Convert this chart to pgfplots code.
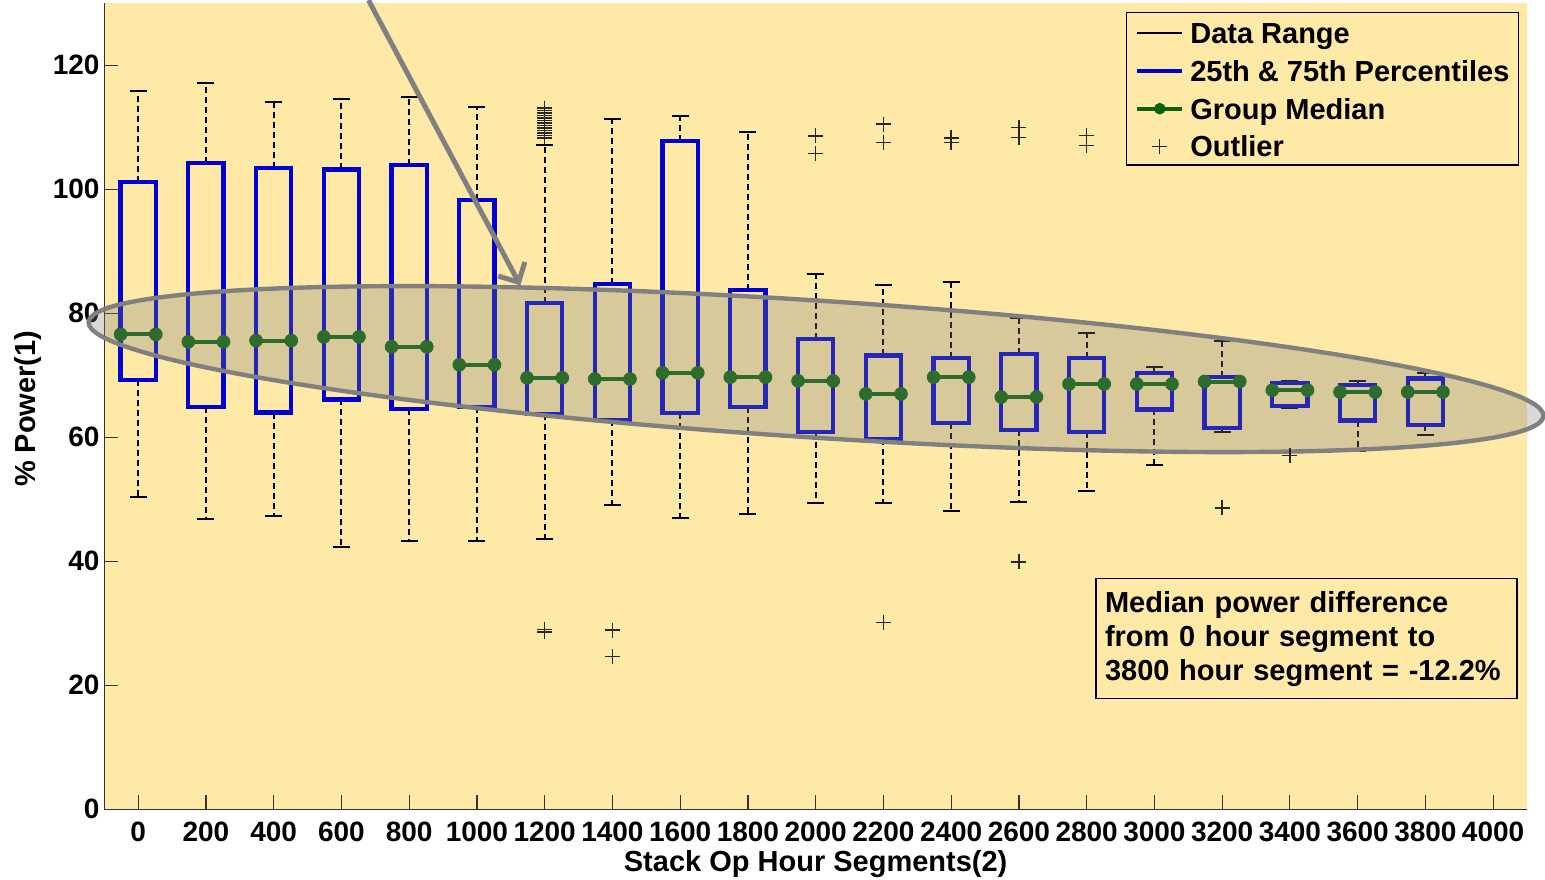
\documentclass[border=0pt]{standalone}
\usepackage{pgfplots}
\pgfplotsset{compat=1.18}
\usepgfplotslibrary{statistics}
\usetikzlibrary{arrows.meta}
\usepackage{fontspec}
\setmainfont{Liberation Sans}
\definecolor{bgyellow}{RGB}{255,233,166}
\definecolor{boxblue}{RGB}{0,0,210}
\definecolor{medgreen}{RGB}{10,100,10}
\definecolor{ellgray}{RGB}{128,128,128}
\newcommand{\lbl}{\bfseries\fontsize{14.5}{17}\selectfont}
\pgfplotsset{
  boxplot/draw/lower whisker/.code={%
    \draw[black, line width=1pt, dash pattern=on 3pt off 2pt]
      (boxplot cs:\pgfplotsboxplotvalue{lower quartile}) -- (boxplot cs:\pgfplotsboxplotvalue{lower whisker});
    \draw[black, line width=1pt]
      (boxplot whisker cs:\pgfplotsboxplotvalue{lower whisker},0) -- (boxplot whisker cs:\pgfplotsboxplotvalue{lower whisker},1);
  },
  boxplot/draw/upper whisker/.code={%
    \draw[black, line width=1pt, dash pattern=on 3pt off 2pt]
      (boxplot cs:\pgfplotsboxplotvalue{upper quartile}) -- (boxplot cs:\pgfplotsboxplotvalue{upper whisker});
    \draw[black, line width=1pt]
      (boxplot whisker cs:\pgfplotsboxplotvalue{upper whisker},0) -- (boxplot whisker cs:\pgfplotsboxplotvalue{upper whisker},1);
  },
  boxplot/draw/box/.code={%
    \draw[boxblue, line width=2.1pt]
      (boxplot box cs:\pgfplotsboxplotvalue{lower quartile},0) rectangle (boxplot box cs:\pgfplotsboxplotvalue{upper quartile},1);
  },
  boxplot/draw/median/.code={%
    \draw[medgreen, line width=2pt]
      (boxplot box cs:\pgfplotsboxplotvalue{median},0) -- (boxplot box cs:\pgfplotsboxplotvalue{median},1);
    \fill[medgreen] (boxplot box cs:\pgfplotsboxplotvalue{median},0) circle[radius=3.2pt];
    \fill[medgreen] (boxplot box cs:\pgfplotsboxplotvalue{median},1) circle[radius=3.2pt];
  },
  bx/.style={forget plot, boxplot/draw direction=y, boxplot prepared={draw direction=y, box extend=104, whisker extend=50}},
}
\pgfplotstableread{
x y
1200 108.3
1200 108.7
1200 109.1
1200 109.5
1200 109.9
1200 110.3
1200 110.7
1200 111.1
1200 111.5
1200 111.9
1200 112.3
1200 112.7
1200 113.1
1200 29.0
1200 28.6
1400 28.9
1400 24.6
2000 108.6
2000 105.8
2200 110.5
2200 107.5
2200 30.1
2400 108.3
2400 107.5
2600 110.0
2600 108.4
2600 39.9
2800 108.7
2800 107.1
3200 48.6
3400 57.1
}\outliers
\begin{document}
\begin{tikzpicture}
\begin{axis}[name=ax, at={(0,0)}, anchor=south west,
  scale only axis, width=711.35pt, height=403pt,
  xmin=-100, xmax=4100, ymin=0, ymax=130,
  clip=false,
  axis x line=bottom, axis y line=left,
  axis line style={-, black!80, line width=0.8pt},
  axis background/.style={fill=bgyellow},
  tick align=inside, major tick length=7pt,
  tick style={black!80, line width=0.6pt},
  xtick={0,200,...,4000},
  xticklabels={0,200,400,600,800,1000,1200,1400,1600,1800,2000,2200,2400,2600,2800,3000,3200,3400,3600,3800,4000},
  ytick={0,20,...,120},
  yticklabels={0,20,40,60,80,100,120},
  ticklabel style={font=\bfseries\fontsize{14}{16}\selectfont},
  xticklabel style={inner sep=0pt, yshift=-6.2pt},
  yticklabel style={inner sep=0pt, xshift=-2.2pt},
  every axis x label/.style={at={(axis description cs:0.5,-0.0684)}, anchor=center, font=\lbl},
  every axis y label/.style={at={(axis description cs:-0.0536,0.497)}, rotate=90, anchor=center, font=\lbl},
  xlabel={Stack Op Hour Segments(2)},
  ylabel={\% Power(1)},
  legend style={at={(axis description cs:0.9944,0.9896)}, anchor=north east,
    fill=bgyellow, draw=black, line width=0.6pt, font=\lbl,
    inner xsep=4.5pt, inner ysep=2.6pt, row sep=4.4pt, column sep=3pt,
    nodes={inner sep=0pt, text height=13pt, text depth=1.5pt, anchor=base west}},
  legend cell align=left,
]
\addplot[bx, boxplot prepared={draw position=0, lower whisker=50.3, lower quartile=69.2, median=76.6, upper quartile=101.2, upper whisker=115.9}] coordinates {};
\addplot[bx, boxplot prepared={draw position=200, lower whisker=46.8, lower quartile=64.9, median=75.4, upper quartile=104.2, upper whisker=117.2}] coordinates {};
\addplot[bx, boxplot prepared={draw position=400, lower whisker=47.3, lower quartile=64.0, median=75.6, upper quartile=103.4, upper whisker=114.0}] coordinates {};
\addplot[bx, boxplot prepared={draw position=600, lower whisker=42.3, lower quartile=66.1, median=76.2, upper quartile=103.2, upper whisker=114.5}] coordinates {};
\addplot[bx, boxplot prepared={draw position=800, lower whisker=43.3, lower quartile=64.6, median=74.6, upper quartile=103.9, upper whisker=114.9}] coordinates {};
\addplot[bx, boxplot prepared={draw position=1000, lower whisker=43.3, lower quartile=64.9, median=71.7, upper quartile=98.3, upper whisker=113.2}] coordinates {};
\addplot[bx, boxplot prepared={draw position=1200, lower whisker=43.6, lower quartile=63.8, median=69.6, upper quartile=81.7, upper whisker=107.2}] coordinates {};
\addplot[bx, boxplot prepared={draw position=1400, lower whisker=49.1, lower quartile=62.8, median=69.4, upper quartile=84.7, upper whisker=111.3}] coordinates {};
\addplot[bx, boxplot prepared={draw position=1600, lower whisker=47.0, lower quartile=63.9, median=70.4, upper quartile=107.8, upper whisker=111.8}] coordinates {};
\addplot[bx, boxplot prepared={draw position=1800, lower whisker=47.6, lower quartile=64.9, median=69.7, upper quartile=83.7, upper whisker=109.2}] coordinates {};
\addplot[bx, boxplot prepared={draw position=2000, lower whisker=49.4, lower quartile=60.9, median=69.1, upper quartile=75.8, upper whisker=86.3}] coordinates {};
\addplot[bx, boxplot prepared={draw position=2200, lower whisker=49.4, lower quartile=59.7, median=67.0, upper quartile=73.2, upper whisker=84.6}] coordinates {};
\addplot[bx, boxplot prepared={draw position=2400, lower whisker=48.1, lower quartile=62.3, median=69.7, upper quartile=72.8, upper whisker=85.0}] coordinates {};
\addplot[bx, boxplot prepared={draw position=2600, lower whisker=49.6, lower quartile=61.2, median=66.5, upper quartile=73.4, upper whisker=79.2}] coordinates {};
\addplot[bx, boxplot prepared={draw position=2800, lower whisker=51.3, lower quartile=60.9, median=68.6, upper quartile=72.8, upper whisker=76.8}] coordinates {};
\addplot[bx, boxplot prepared={draw position=3000, lower whisker=55.6, lower quartile=64.5, median=68.6, upper quartile=70.4, upper whisker=71.4}] coordinates {};
\addplot[bx, boxplot prepared={draw position=3200, lower whisker=60.9, lower quartile=61.5, median=69.0, upper quartile=69.7, upper whisker=75.5}] coordinates {};
\addplot[bx, boxplot prepared={draw position=3400, lower whisker=64.7, lower quartile=65.0, median=67.6, upper quartile=68.7, upper whisker=69.1}] coordinates {};
\addplot[bx, boxplot prepared={draw position=3600, lower whisker=57.8, lower quartile=62.7, median=67.3, upper quartile=68.4, upper whisker=69.1}] coordinates {};
\addplot[bx, boxplot prepared={draw position=3800, lower whisker=60.4, lower quartile=62.0, median=67.3, upper quartile=69.5, upper whisker=70.4}] coordinates {};
\addplot[forget plot, only marks, mark=+, mark size=3.75pt, black!85, mark options={line width=0.7pt}] table[x=x, y=y] {\outliers};
% annotations
\draw[ellgray, line width=2.2pt, fill=ellgray, fill opacity=0.3, rotate around={-3.7:(axis cs:2001,71.0)}]
  (axis cs:2001,71.0) ellipse [x radius=364.5pt, y radius=34.25pt];
\draw[ellgray, line width=2.5pt, -{Straight Barb[length=7.5pt,width=15pt]}] (axis cs:680,130.5) -- (axis cs:1128,84.5);
\node[anchor=north west, draw=black, line width=0.6pt, fill=bgyellow, font=\lbl, align=left,
  text width=201.5pt, inner xsep=4.5pt, minimum height=60pt] at (axis cs:2826,37.3)
  {Median power difference\\from 0 hour segment to\\3800 hour segment = -12.2\%};
% legend
\addlegendimage{legend image code/.code={\draw[black, line width=0.7pt] (0pt,5.2pt) -- (22.5pt,5.2pt);}}
\addlegendentry{Data Range}
\addlegendimage{legend image code/.code={\draw[boxblue, line width=2pt] (0pt,5.2pt) -- (22.5pt,5.2pt);}}
\addlegendentry{25th \& 75th Percentiles}
\addlegendimage{legend image code/.code={\draw[medgreen, line width=2pt] (0pt,5.2pt) -- (22.5pt,5.2pt); \fill[medgreen] (11.25pt,5.2pt) circle[radius=2.6pt];}}
\addlegendentry{Group Median}
\addlegendimage{legend image code/.code={\draw[black!85, line width=0.6pt] (7.5pt,5.2pt) -- (15pt,5.2pt) (11.25pt,1.45pt) -- (11.25pt,8.95pt);}}
\addlegendentry{Outlier}
\end{axis}
\pgfresetboundingbox
\path[use as bounding box] ([shift={(-52.15pt,-34.85pt)}]ax.south west) rectangle ([shift={(9pt,1.65pt)}]ax.north east);
\end{tikzpicture}
\end{document}
